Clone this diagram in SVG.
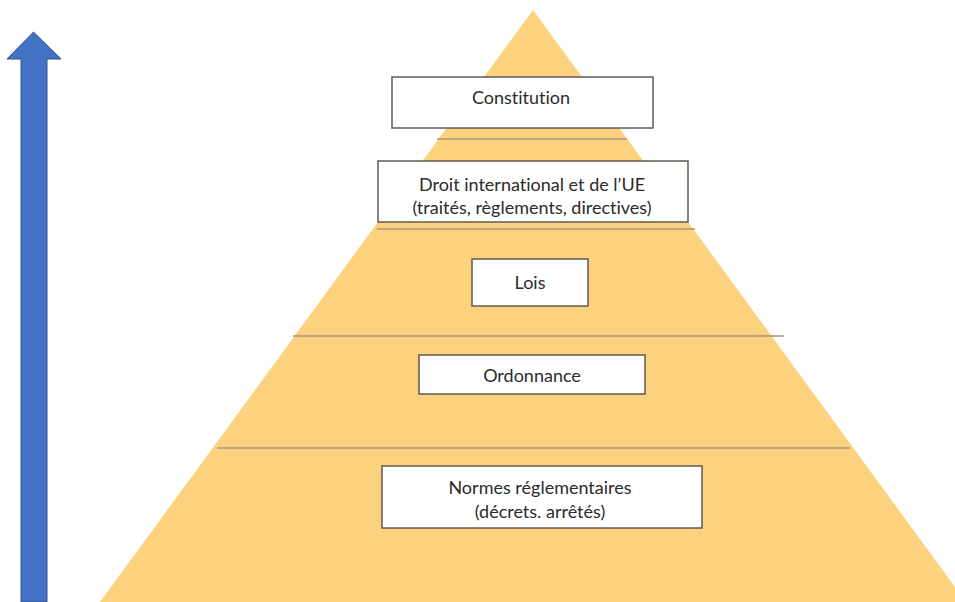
<svg xmlns="http://www.w3.org/2000/svg" width="955" height="602" viewBox="0 0 955 602">
  <style>
    .box { fill: #ffffff; stroke: #5f5a52; stroke-width: 1.5; }
    .lbl { font-family: Lato, "Open Sans", "Liberation Sans", sans-serif; font-size: 18px; fill: #2b2b2b; text-anchor: middle; font-variant-ligatures: none; }
    .sep { stroke: #a8957a; stroke-width: 1.6; fill: none; }
  </style>
  <rect x="0" y="0" width="955" height="602" fill="#ffffff"/>
  <g id="pyramid">
    <polygon points="533,10 966,602 100,602" fill="#fdd27f"/>
  </g>
  <g id="separators">
    <line class="sep" x1="437" y1="139" x2="627" y2="139"/>
    <line class="sep" x1="377" y1="229" x2="695" y2="229"/>
    <line class="sep" x1="293" y1="336" x2="784" y2="336" stroke="#9a9084"/>
    <line class="sep" x1="217" y1="448" x2="850" y2="448"/>
  </g>
  <g id="arrow">
    <polygon points="21,602 21,59 7,59 33.5,32 61,59 47,59 47,602" fill="#4472c4" stroke="#2f528f" stroke-width="1"/>
  </g>
  <g id="constitution">
    <rect class="box" x="392" y="77" width="261" height="51"/>
    <text class="lbl" x="521" y="104">Constitution</text>
  </g>
  <g id="droit-international">
    <rect class="box" x="378" y="161" width="310" height="61"/>
    <text class="lbl" x="532" y="191">Droit international et de l’UE</text>
    <text class="lbl" x="532" y="214">(traités, règlements, directives)</text>
  </g>
  <g id="lois">
    <rect class="box" x="472" y="259" width="116" height="47"/>
    <text class="lbl" x="530" y="289">Lois</text>
  </g>
  <g id="ordonnance">
    <rect class="box" x="419" y="355" width="226" height="39"/>
    <text class="lbl" x="532" y="382">Ordonnance</text>
  </g>
  <g id="normes">
    <rect class="box" x="382" y="466" width="320" height="62"/>
    <text class="lbl" x="540" y="494">Normes réglementaires</text>
    <text class="lbl" x="540" y="518">(décrets. arrêtés)</text>
  </g>
</svg>
